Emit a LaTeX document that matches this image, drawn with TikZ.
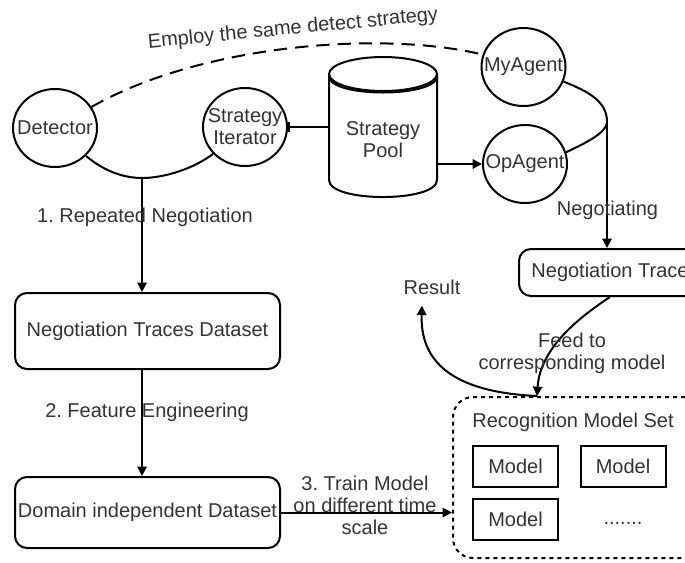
\documentclass[tikz,border=0pt]{standalone}
\usepackage{fontspec}
\setmainfont{Liberation Sans}
\usepackage{tikz}
\usetikzlibrary{shapes.geometric,arrows.meta,calc}
\frenchspacing

\tikzset{
  agent/.style={draw,ellipse,line width=1.5pt,inner sep=0pt,minimum width=63pt,minimum height=58.5pt},
  agentname/.style={label={[inner sep=0pt,align=center]center:#1}},
  dataset/.style={draw,rounded corners=9pt,line width=1.5pt,inner sep=0pt,minimum width=198.75pt},
  setbox/.style={draw,dash pattern=on 3pt off 3pt,rounded corners=15pt,line width=1.5pt,inner sep=0pt,minimum width=201pt,minimum height=120.75pt},
  modelbox/.style={draw,line width=1.5pt,inner sep=0pt,minimum width=63.75pt,minimum height=30.75pt},
  lbl/.style={inner sep=0.75pt,align=center},
  link/.style={line width=1.5pt},
  arr/.style={line width=1.5pt,-{Triangle[length=7pt,width=7pt]}},
}

\begin{document}
\begin{tikzpicture}[x=0.75pt,y=0.75pt,yscale=-1,xscale=1,every node/.style={font=\fontsize{15}{16.5}\selectfont,text=black!80}]
        \useasboundingbox (0,0) rectangle (685,562);
        \clip (0,0) rectangle (685,562);

        \draw (55,128) node [agent,agentname={Detector}] (det) {};
        \draw (245,127) node [agent,agentname={Strategy\\Iterator}] (iter) {};
        \draw (523.5,67) node [agent,agentname={MyAgent}] (my) {};
        \draw (525,164) node [agent,agentname={OpAgent}] (op) {};

        \draw [link] (329,74) -- (329,180) .. controls (329,202.7) and (437,202.7) .. (437,180) -- (437,74) ;
        \draw [link] (383,74) ellipse [x radius=54, y radius=17] ;
        \draw [link] (329,76) .. controls (329,98) and (437,98) .. (437,76) ;
        \draw (383,140) node [lbl,minimum width=81pt] (pool) {Strategy\\Pool};

        \draw (147.5,331) node [dataset,minimum height=57pt] (ntd) {Negotiation Traces Dataset};
        \draw (147.5,512.5) node [dataset,minimum height=53.25pt] (did) {Domain independent Dataset};
        \draw (518,272.5) node [dataset,anchor=west,minimum width=136.5pt,minimum height=35.25pt] (trace) {Negotiation Trace};

        \draw (452,396) node [setbox,anchor=north west] (set) {};
        \draw (573,422) node [lbl] (setname) {Recognition Model Set};
        \draw (515.5,466.5) node [modelbox] (m1) {Model};
        \draw (623,466.5) node [modelbox] (m2) {Model};
        \draw (515.5,519) node [modelbox] (m3) {Model};
        \draw (623,523) node [lbl] (more) {.......};

        \draw (432,287) node [lbl] (result) {Result};

        \coordinate (split) at (142,178);
        \coordinate (join) at (607,122);
        \coordinate (entry) at (537,396);

        \draw [link,dash pattern=on 10pt off 6pt] (det.30) .. controls (200,45) and (380,30) .. (my.163) ;
        \draw (293,29) node [lbl,rotate=5.5] (employ) {Employ the same detect strategy};

        \draw [link,-{Bar[width=7.5pt]}] (pool.west |- iter.east) -- (iter.east) ;
        \draw [arr] (pool.east |- op.west) -- (op.west) ;

        \draw [link] (det.-42) .. controls (105,172) and (125,178) .. (split) .. controls (165,178) and (195,168) .. (iter.220) ;
        \draw [arr] (split) -- (split |- ntd.north) ;
        \draw (145,217) node [lbl] (step1) {1. Repeated Negotiation};

        \draw [arr] (split |- ntd.south) -- (split |- did.north) ;
        \draw (147,412) node [lbl] (step2) {2. Feature Engineering};

        \draw [arr] (did.east) -- (did.east -| set.west) ;
        \draw (365,505) node [lbl] (step3) {3. Train Model\\on different time\\scale};

        \draw [link] (my.-20) .. controls (590,92) and (607,102) .. (join) ;
        \draw [link] (op.16) .. controls (588,142) and (607,132) .. (join) ;
        \draw [arr] (join) -- (join |- trace.north) ;
        \draw (607.5,210) node [lbl] (negotiating) {Negotiating};

        \draw [arr] (trace.south) .. controls (575,320) and (540,350) .. (entry) ;
        \draw (572,353) node [lbl] (feed) {Feed to\\corresponding model};

        \draw [arr] (entry) .. controls (450,392) and (420,360) .. ($(result.south)+(-10,10)$) ;

    \end{tikzpicture}
\end{document}
